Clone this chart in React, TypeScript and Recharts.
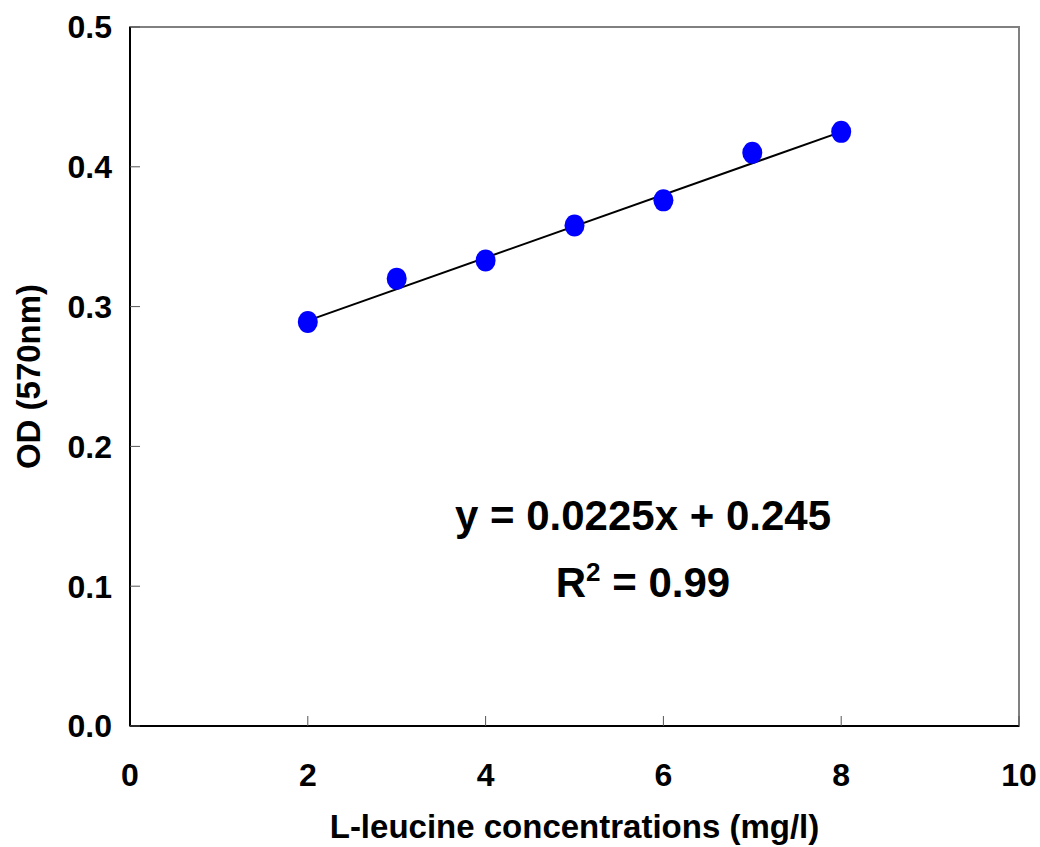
import React from 'react';
import {
  ComposedChart,
  Scatter,
  Line,
  XAxis,
  YAxis,
  ReferenceArea,
} from 'recharts';

// L-leucine standard curve: concentration (mg/l) vs optical density at 570 nm
const concentrations = [2, 3, 4, 5, 6, 7, 8];
const odValues = [0.289, 0.32, 0.333, 0.358, 0.376, 0.41, 0.425];

// linear fit reported on the plot
const slope = 0.0225;
const intercept = 0.245;
const rSquared = '0.99';

const xTicks = [0, 2, 4, 6, 8, 10];
const yTicks = [0, 0.1, 0.2, 0.3, 0.4, 0.5];

const FONT = '"Liberation Sans", Arial, Helvetica, sans-serif';

const points = concentrations.map((x, i) => ({ x, y: odValues[i] }));
const fitX = [concentrations[0], concentrations[concentrations.length - 1]];
const fitLine = fitX.map((x) => ({ x, y: slope * x + intercept }));

const BlueDot = (props: { cx?: number; cy?: number }) => {
  const { cx, cy } = props;
  if (cx == null || cy == null) return null;
  return <ellipse cx={cx} cy={cy} rx={10} ry={11} fill="#0000ff" />;
};

export default function App() {
  return (
    <div
      style={{
        position: 'absolute',
        left: 0,
        top: 0,
        width: 1040,
        height: 847,
        background: '#fff',
        fontFamily: FONT,
        overflow: 'hidden',
      }}
    >
      <ComposedChart
        width={1040}
        height={847}
        margin={{ top: 27, right: 21, left: 0, bottom: 0 }}
        style={{ overflow: 'visible' }}
      >
        {/* plot frame */}
        <ReferenceArea
          x1={0}
          x2={10}
          y1={0}
          y2={0.5}
          fill="none"
          stroke="#808080"
          strokeWidth={2}
          ifOverflow="visible"
        />
        <XAxis
          dataKey="x"
          type="number"
          domain={[0, 10]}
          ticks={xTicks}
          allowDataOverflow
          interval={0}
          height={121}
          tickSize={-10}
          tickMargin={47}
          axisLine={{ stroke: '#000', strokeWidth: 2 }}
          tickLine={{ stroke: '#555', strokeWidth: 1 }}
          tick={{ fill: '#000', fontSize: 32, fontWeight: 'bold', fontFamily: FONT }}
          label={{
            value: 'L-leucine concentrations (mg/l)',
            position: 'insideBottom',
            offset: 9,
            fill: '#000',
            fontSize: 33,
            fontWeight: 'bold',
            fontFamily: FONT,
          }}
        />
        <YAxis
          dataKey="y"
          type="number"
          domain={[0, 0.5]}
          ticks={yTicks}
          allowDataOverflow
          interval={0}
          width={130}
          tickSize={-10}
          tickMargin={28}
          tickFormatter={(v: number) => v.toFixed(1)}
          axisLine={{ stroke: '#000', strokeWidth: 2 }}
          tickLine={{ stroke: '#555', strokeWidth: 1 }}
          tick={{ fill: '#000', fontSize: 32, fontWeight: 'bold', fontFamily: FONT }}
          label={{
            value: 'OD (570nm)',
            angle: -90,
            position: 'insideLeft',
            offset: 28,
            fill: '#000',
            fontSize: 33,
            fontWeight: 'bold',
            fontFamily: FONT,
            style: { textAnchor: 'middle' },
          }}
        />
        <Scatter
          data={points}
          dataKey="y"
          shape={<BlueDot />}
          isAnimationActive={false}
        />
        <Line
          data={fitLine}
          dataKey="y"
          type="linear"
          stroke="#000"
          strokeWidth={2}
          dot={false}
          activeDot={false}
          isAnimationActive={false}
        />
      </ComposedChart>

      {/* regression equation */}
      <div
        style={{
          position: 'absolute',
          left: 443,
          width: 400,
          top: 488,
          textAlign: 'center',
          fontSize: 42,
          fontWeight: 'bold',
          lineHeight: '56px',
          color: '#000',
        }}
      >
        <div>
          y = {slope}x + {intercept}
        </div>
        <div>
          R<sup style={{ fontSize: '0.62em', verticalAlign: '0.62em' }}>2</sup> = {rSquared}
        </div>
      </div>
    </div>
  );
}
